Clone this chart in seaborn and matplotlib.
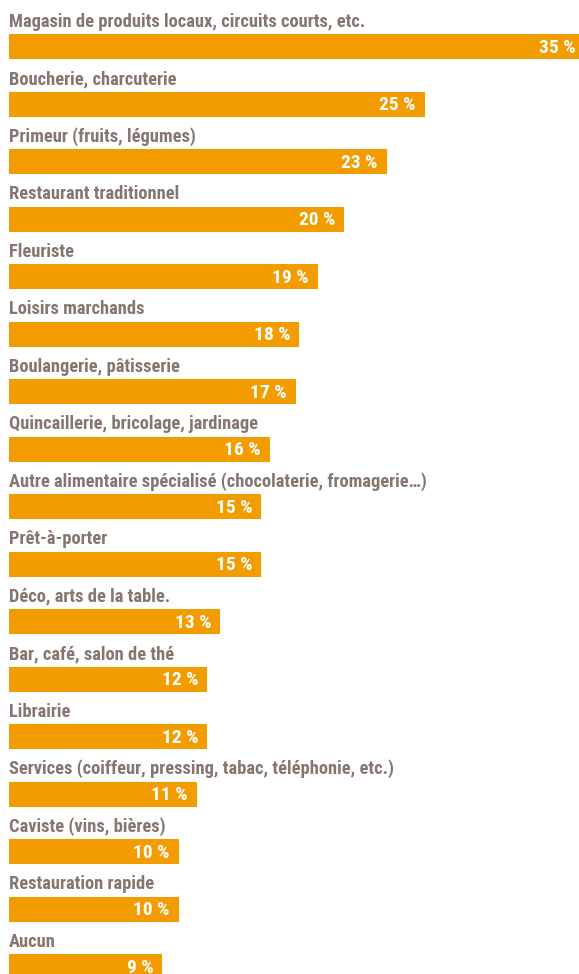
import pandas as pd
import seaborn as sns
import matplotlib.pyplot as plt
from matplotlib import font_manager

# data
categories = [
    "Magasin de produits locaux, circuits courts, etc.",
    "Boucherie, charcuterie",
    "Primeur (fruits, légumes)",
    "Restaurant traditionnel",
    "Fleuriste",
    "Loisirs marchands",
    "Boulangerie, pâtisserie",
    "Quincaillerie, bricolage, jardinage",
    "Autre alimentaire spécialisé (chocolaterie, fromagerie\u2026)",
    "Prêt-à-porter",
    "Déco, arts de la table.",
    "Bar, café, salon de thé",
    "Librairie",
    "Services (coiffeur, pressing, tabac, téléphonie, etc.)",
    "Caviste (vins, bières)",
    "Restauration rapide",
    "Aucun",
]
values = [34.9, 25.2, 22.9, 20.3, 18.7, 17.6, 17.4, 15.8, 15.3, 15.3,
          12.8, 12.0, 12.0, 11.4, 10.3, 10.3, 9.3]
labels = ["35 %", "25 %", "23 %", "20 %", "19 %", "18 %", "17 %", "16 %", "15 %", "15 %",
          "13 %", "12 %", "12 %", "11 %", "10 %", "10 %", "9 %"]

df = pd.DataFrame({"cat": categories, "val": values})

orange = "#F39C00"
grey = "#85766F"

# look for a condensed bold face
fpaths = [f.fname for f in font_manager.fontManager.ttflist]
prefs = ["RobotoCondensed-Bold", "LiberationSansNarrow-Bold.", "NotoSans-CondensedBold",
         "OpenSans_Condensed-Bold", "DejaVuSansCondensed-Bold"]
cond = None
for p in prefs:
    hits = [f for f in fpaths if p in f.replace(" ", "")]
    if hits:
        cond = hits[0]
        break

sns.set_style("white")
plt.rcParams["font.family"] = ["DejaVu Sans"]

fig = plt.figure(figsize=(5.79, 9.74), dpi=100)
ax = fig.add_axes([0, 0, 1, 1])

sns.barplot(data=df, x="val", y="cat", color=orange, saturation=1, width=0.435,
            linewidth=0, ax=ax)

# px per unit: 16.5 horizontally, 57.5 per row vertically
ax.set_xlim(-9 / 16.5, 570 / 16.5)
ax.set_ylim(16.13, -0.809)
ax.axis("off")

if cond:
    fp = dict(fontproperties=font_manager.FontProperties(fname=cond, size=13.3))
    fpv = dict(fontproperties=font_manager.FontProperties(fname=cond, size=14))
else:
    fp = dict(fontsize=11.5, fontweight="bold")
    fpv = fp

for i, (c, v, l) in enumerate(zip(categories, values, labels)):
    ax.text(0, i - 0.344, c, ha="left", va="baseline", color=grey, **fp)
    ax.text(v - 9 / 16.5, i + 0.02, l, ha="right", va="center", color="white", **fpv)

fig.savefig("out.png", dpi=100)
